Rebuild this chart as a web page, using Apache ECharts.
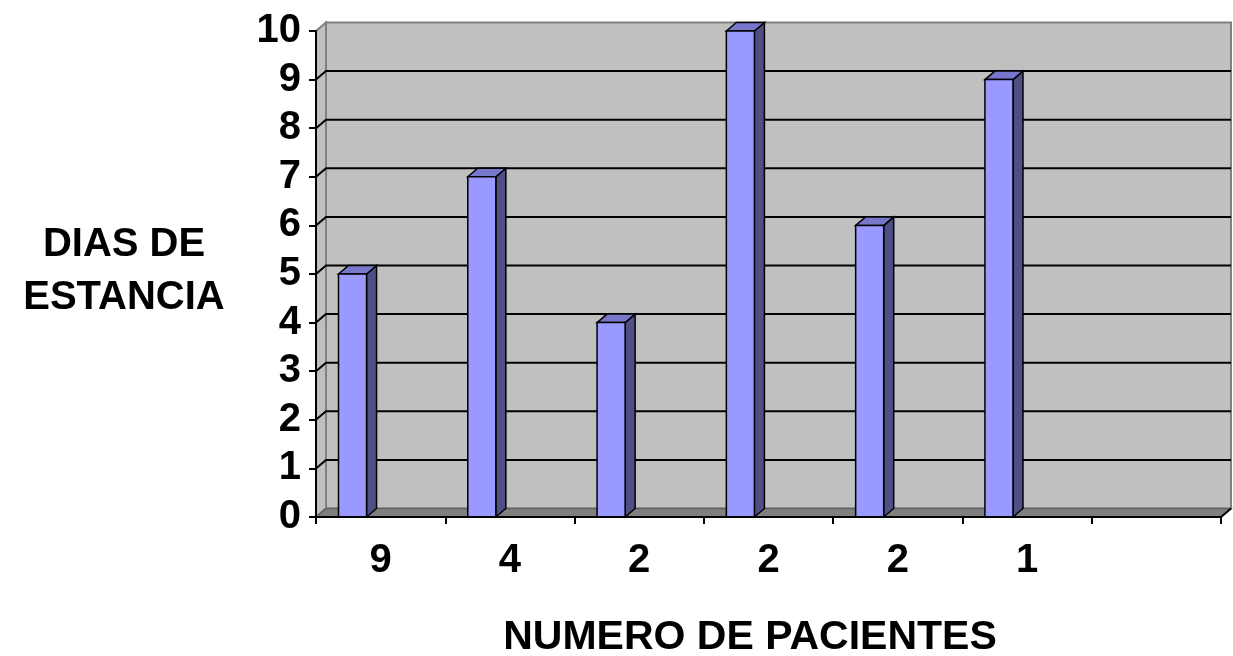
<!DOCTYPE html>
<html>
<head>
<meta charset="utf-8">
<script src="https://cdn.jsdelivr.net/npm/echarts@6/dist/echarts.min.js"></script>
<style>
  html, body { margin: 0; padding: 0; background: #ffffff; }
  #chart { width: 1233px; height: 656px; }
</style>
</head>
<body>
<div id="chart"></div>
<script>
// Días de estancia por número de pacientes
const categories = ['9', '4', '2', '2', '2', '1', ''];
const estancia = [5, 7, 4, 10, 6, 9, null];
const yTicks = [0, 1, 2, 3, 4, 5, 6, 7, 8, 9, 10];

// depth of the pseudo-3D box (pixels)
const DX = 10, DY = -8.5;
const FONT = '"Liberation Sans", Arial, sans-serif';

const chart = echarts.init(document.getElementById('chart'), null, { renderer: 'canvas' });

// back wall, left wall, floor and gridlines of the 3D box
function renderWalls(params, api) {
  const nCat = categories.length;
  const p0 = api.coord([0, 0]);
  const band = api.size([1, 0])[0];
  const x0 = p0[0] - band / 2;
  const x1 = x0 + band * nCat;
  const yMin = api.coord([0, yTicks[0]])[1];
  const yMax = api.coord([0, yTicks[yTicks.length - 1]])[1];
  const children = [];
  // back wall
  children.push({
    type: 'rect',
    shape: { x: x0 + DX, y: yMax + DY, width: x1 - x0, height: yMin - yMax },
    style: { fill: '#C0C0C0', stroke: '#808080', lineWidth: 2 }
  });
  // left wall
  children.push({
    type: 'polygon',
    shape: { points: [[x0, yMin], [x0, yMax], [x0 + DX, yMax + DY], [x0 + DX, yMin + DY]] },
    style: { fill: '#C0C0C0', stroke: '#808080', lineWidth: 2 }
  });
  // gridlines on back and left walls
  yTicks.slice(1, -1).forEach(function (t) {
    const y = api.coord([0, t])[1];
    children.push({
      type: 'polyline',
      shape: { points: [[x0, y], [x0 + DX, y + DY], [x1 + DX, y + DY]] },
      style: { stroke: '#000000', lineWidth: 2, fill: null }
    });
  });
  // floor
  children.push({
    type: 'polygon',
    shape: { points: [[x0, yMin], [x1, yMin], [x1 + DX, yMin + DY], [x0 + DX, yMin + DY]] },
    style: { fill: '#808080', stroke: '#606060', lineWidth: 1.5 }
  });
  children.push({
    type: 'line',
    shape: { x1: x1, y1: yMin, x2: x1 + DX, y2: yMin + DY },
    style: { stroke: '#000000', lineWidth: 2 }
  });
  return { type: 'group', children: children };
}

// one 3D column: front, side and top faces
function renderBar(params, api) {
  const idx = api.value(0);
  const val = api.value(1);
  const c = api.coord([idx, 0]);
  const band = api.size([1, 0])[0];
  const left = c[0] - band / 2 + band * 0.174;
  const w = band * 0.217;
  const right = left + w;
  const yBase = c[1];
  const yTop = api.coord([idx, val])[1];
  const edge = { stroke: '#000000', lineWidth: 1.5, lineJoin: 'miter' };
  return {
    type: 'group',
    children: [
      {
        type: 'polygon',
        shape: { points: [[right, yTop], [right + DX, yTop + DY], [right + DX, yBase + DY], [right, yBase]] },
        style: Object.assign({ fill: '#4F4F86' }, edge)
      },
      {
        type: 'polygon',
        shape: { points: [[left, yTop], [left + DX, yTop + DY], [right + DX, yTop + DY], [right, yTop]] },
        style: Object.assign({ fill: '#7777CC' }, edge)
      },
      {
        type: 'rect',
        shape: { x: left, y: yTop, width: w, height: yBase - yTop },
        style: Object.assign({ fill: '#9999FF' }, edge)
      }
    ]
  };
}

const barData = [];
estancia.forEach(function (v, i) { if (v !== null) barData.push([i, v]); });

chart.setOption({
  backgroundColor: '#ffffff',
  animation: false,
  grid: { left: 316, right: 12, top: 31, bottom: 139, containLabel: false },
  xAxis: {
    type: 'category',
    data: categories,
    boundaryGap: true,
    z: 10,
    axisLine: { show: true, lineStyle: { color: '#000000', width: 2 } },
    axisTick: { show: true, length: 7, lineStyle: { color: '#000000', width: 2 } },
    axisLabel: {
      color: '#000000', fontFamily: FONT, fontWeight: 'bold', fontSize: 40, margin: 24
    },
    splitLine: { show: false }
  },
  yAxis: {
    type: 'value',
    min: yTicks[0],
    max: yTicks[yTicks.length - 1],
    interval: 1,
    z: 10,
    axisLine: { show: true, lineStyle: { color: '#000000', width: 2 } },
    axisTick: { show: true, length: 7, lineStyle: { color: '#000000', width: 2 } },
    axisLabel: {
      color: '#000000', fontFamily: FONT, fontWeight: 'bold', fontSize: 40, margin: 15
    },
    splitLine: { show: false }
  },
  graphic: [
    {
      type: 'text',
      style: {
        text: 'DIAS DE\nESTANCIA', x: 124, y: 271,
        fill: '#000000', font: 'bold 40px ' + FONT,
        align: 'center', verticalAlign: 'middle', lineHeight: 53
      }
    },
    {
      type: 'text',
      style: {
        text: 'NUMERO DE PACIENTES', x: 750, y: 638,
        fill: '#000000', font: 'bold 41px ' + FONT,
        align: 'center', verticalAlign: 'middle'
      }
    }
  ],
  series: [
    {
      type: 'custom',
      z: 1,
      silent: true,
      data: [[0, 0]],
      renderItem: renderWalls
    },
    {
      type: 'custom',
      z: 5,
      data: barData,
      encode: { x: 0, y: 1 },
      renderItem: renderBar
    }
  ]
});
</script>
</body>
</html>
